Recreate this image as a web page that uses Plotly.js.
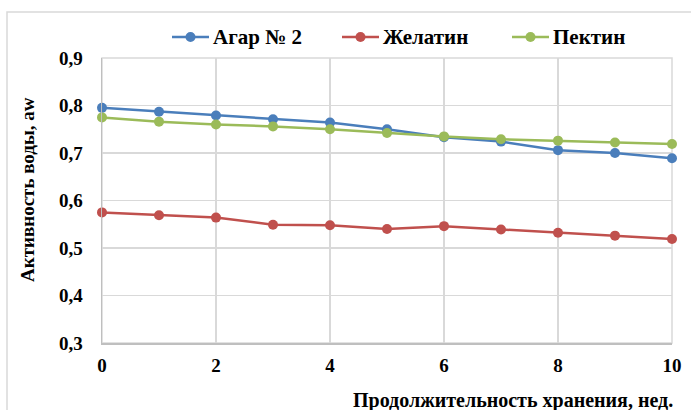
<!DOCTYPE html>
<html>
<head>
<meta charset="utf-8">
<script src="https://cdn.plot.ly/plotly-3.0.1.min.js"></script>
<style>
html,body{margin:0;padding:0;background:#fff;}
#chart{width:691px;height:410px;}
</style>
</head>
<body>
<div id="chart"></div>
<script>
var weeks = [0,1,2,3,4,5,6,7,8,9,10];
var agar = [0.795,0.787,0.779,0.771,0.764,0.750,0.733,0.724,0.706,0.700,0.689];
var gelatin = [0.575,0.569,0.564,0.549,0.548,0.540,0.546,0.539,0.532,0.526,0.519];
var pectin = [0.775,0.766,0.760,0.756,0.750,0.742,0.735,0.729,0.726,0.722,0.719];
var seriesNames = ["Агар № 2","Желатин","Пектин"];
var seriesColors = ["#4A7EBB","#C0504D","#9BBB59"];
var xTicks = [0,2,4,6,8,10];
var yTicks = [0.3,0.4,0.5,0.6,0.7,0.8,0.9];
var xTitle = "Продолжительность хранения, нед.";
var yTitle = "Активность воды, aw";

var FONT = "Liberation Serif";
var PL = 102, PR = 672, PT = 58, PB = 343;
function px(x){ return (x - PL) / (PR - PL); }
function py(y){ return (PB - y) / (PB - PT); }

var data = [agar, gelatin, pectin].map(function(vals, i){
  return {
    x: weeks, y: vals, name: seriesNames[i],
    type: 'scatter', mode: 'lines+markers',
    line: {color: seriesColors[i], width: 2.5},
    marker: {color: seriesColors[i], size: 10},
    cliponaxis: false, showlegend: false
  };
});

var shapes = [
  {type: 'rect', xref: 'paper', yref: 'paper', x0: 0, x1: 1, y0: 0, y1: 1,
   line: {color: '#D9D9D9', width: 1.5}, layer: 'below'},
  {type: 'rect', xref: 'paper', yref: 'paper',
   x0: px(7), x1: px(700), y0: py(420), y1: py(12),
   line: {color: '#D9D9D9', width: 1.5}, layer: 'below'}
];
var annotations = [
  {text: '<b>' + xTitle + '</b>', xref: 'paper', yref: 'paper', x: px(675), xanchor: 'right',
   y: py(400), yanchor: 'middle', showarrow: false,
   font: {family: FONT, size: 20, color: '#000'}},
  {text: '<b>' + yTitle + '</b>', xref: 'paper', yref: 'paper', x: px(27), xanchor: 'center',
   y: py(190), yanchor: 'middle', showarrow: false, textangle: -90,
   font: {family: FONT, size: 19, color: '#000'}}
];

// legend (drawn as key entries above the plot)
var legendStart = 172, legendStep = 170, legendY = 37;
seriesNames.forEach(function(name, i){
  var x0 = legendStart + i * legendStep;
  shapes.push({type: 'line', xref: 'paper', yref: 'paper', x0: px(x0), x1: px(x0 + 37),
    y0: py(legendY), y1: py(legendY), line: {color: seriesColors[i], width: 2.5}});
  shapes.push({type: 'circle', xref: 'paper', yref: 'paper', x0: px(x0 + 18.5 - 5), x1: px(x0 + 18.5 + 5),
    y0: py(legendY + 5), y1: py(legendY - 5), fillcolor: seriesColors[i], line: {color: seriesColors[i], width: 0}});
  annotations.push({text: '<b>' + name + '</b>', xref: 'paper', yref: 'paper', x: px(x0 + 39), xanchor: 'left',
    y: py(legendY), yanchor: 'middle', showarrow: false,
    font: {family: FONT, size: 21, color: '#000'}});
});

var layout = {
  width: 691, height: 410,
  margin: {l: PL, r: 691 - PR, t: PT, b: 410 - PB, autoexpand: false},
  paper_bgcolor: '#fff', plot_bgcolor: '#fff',
  separators: ', ',
  font: {family: FONT, size: 18, color: '#000'},
  showlegend: false,
  xaxis: {
    range: [0, 10], tickvals: xTicks, ticktext: xTicks.map(function(v){return '<b>' + v + '</b>';}),
    showgrid: true, gridcolor: '#D9D9D9', gridwidth: 1.5,
    showline: true, linecolor: '#BFBFBF', linewidth: 1.5,
    zeroline: false, ticks: '', ticklabelstandoff: 5,
    tickfont: {family: FONT, size: 19, color: '#000'}
  },
  yaxis: {
    range: [0.3, 0.9], tickvals: yTicks, ticktext: yTicks.map(function(v){return '<b>' + v.toFixed(1).replace('.', ',') + '</b>';}),
    showgrid: true, gridcolor: '#D9D9D9', gridwidth: 1.5,
    showline: true, linecolor: '#BFBFBF', linewidth: 1.5,
    zeroline: false, ticks: '', ticklabelstandoff: 14,
    tickfont: {family: FONT, size: 19, color: '#000'}
  },
  shapes: shapes,
  annotations: annotations
};

Plotly.newPlot('chart', data, layout, {displayModeBar: false, staticPlot: true});
</script>
</body>
</html>
